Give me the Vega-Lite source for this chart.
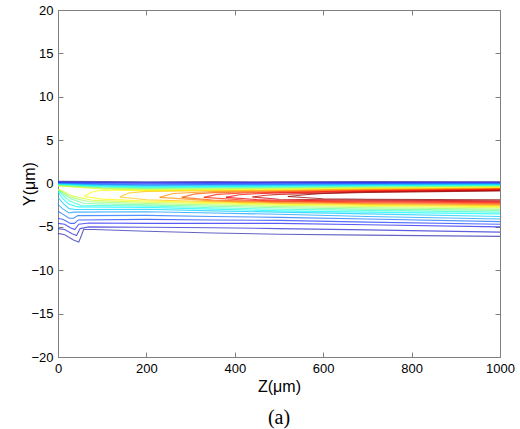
{
"$schema": "https://vega.github.io/schema/vega-lite/v6.json",
"width": 442, "height": 347,
"autosize": {"type": "none"},
"padding": {"left": 58, "top": 10, "right": 20, "bottom": 72},
"background": "white",
"config": {
  "view": {"stroke": "#808080", "strokeWidth": 1},
  "axis": {"grid": false, "domainColor": "#808080", "tickColor": "#808080", "labelColor": "black", "labelFont": "Liberation Sans", "labelFontSize": 13, "titleFont": "Liberation Sans", "titleFontSize": 16, "titleFontWeight": "normal", "titleColor": "black", "labelFlush": false, "labelOverlap": false, "tickSize": -5, "labelPadding": 10}
},
"title": {"text": "(a)", "orient": "bottom", "anchor": "middle", "font": "Liberation Serif", "fontSize": 20, "fontWeight": "normal", "color": "black", "offset": 14},
"data": {"values": [
{"lv":1,"p":"u","z":0,"y":0.25},{"lv":1,"p":"u","z":100,"y":0.22},{"lv":1,"p":"u","z":200,"y":0.2},{"lv":1,"p":"u","z":350,"y":0.22},{"lv":1,"p":"u","z":500,"y":0.2},{"lv":1,"p":"u","z":700,"y":0.22},{"lv":1,"p":"u","z":1000,"y":0.2},
{"lv":2,"p":"u","z":0,"y":0.155},{"lv":2,"p":"u","z":100,"y":0.125},{"lv":2,"p":"u","z":200,"y":0.115},{"lv":2,"p":"u","z":350,"y":0.12},{"lv":2,"p":"u","z":500,"y":0.125},{"lv":2,"p":"u","z":700,"y":0.135},{"lv":2,"p":"u","z":1000,"y":0.145},
{"lv":3,"p":"u","z":0,"y":0.11},{"lv":3,"p":"u","z":100,"y":0.05},{"lv":3,"p":"u","z":200,"y":0.03},{"lv":3,"p":"u","z":350,"y":0.04},{"lv":3,"p":"u","z":500,"y":0.05},{"lv":3,"p":"u","z":700,"y":0.07},{"lv":3,"p":"u","z":1000,"y":0.09},
{"lv":4,"p":"u","z":0,"y":0.065},{"lv":4,"p":"u","z":100,"y":-0.025},{"lv":4,"p":"u","z":200,"y":-0.055},{"lv":4,"p":"u","z":350,"y":-0.04},{"lv":4,"p":"u","z":500,"y":-0.025},{"lv":4,"p":"u","z":700,"y":0.005},{"lv":4,"p":"u","z":1000,"y":0.035},
{"lv":5,"p":"u","z":0,"y":0.02},{"lv":5,"p":"u","z":100,"y":-0.1},{"lv":5,"p":"u","z":200,"y":-0.14},{"lv":5,"p":"u","z":350,"y":-0.12},{"lv":5,"p":"u","z":500,"y":-0.1},{"lv":5,"p":"u","z":700,"y":-0.06},{"lv":5,"p":"u","z":1000,"y":-0.02},
{"lv":6,"p":"u","z":0,"y":-0.025},{"lv":6,"p":"u","z":100,"y":-0.175},{"lv":6,"p":"u","z":200,"y":-0.225},{"lv":6,"p":"u","z":350,"y":-0.2},{"lv":6,"p":"u","z":500,"y":-0.175},{"lv":6,"p":"u","z":700,"y":-0.125},{"lv":6,"p":"u","z":1000,"y":-0.075},
{"lv":7,"p":"u","z":0,"y":-0.07},{"lv":7,"p":"u","z":100,"y":-0.25},{"lv":7,"p":"u","z":200,"y":-0.31},{"lv":7,"p":"u","z":350,"y":-0.28},{"lv":7,"p":"u","z":500,"y":-0.25},{"lv":7,"p":"u","z":700,"y":-0.19},{"lv":7,"p":"u","z":1000,"y":-0.13},
{"lv":8,"p":"u","z":0,"y":-0.115},{"lv":8,"p":"u","z":100,"y":-0.325},{"lv":8,"p":"u","z":200,"y":-0.395},{"lv":8,"p":"u","z":350,"y":-0.36},{"lv":8,"p":"u","z":500,"y":-0.325},{"lv":8,"p":"u","z":700,"y":-0.255},{"lv":8,"p":"u","z":1000,"y":-0.185},
{"lv":9,"p":"u","z":0,"y":-0.16},{"lv":9,"p":"u","z":100,"y":-0.4},{"lv":9,"p":"u","z":200,"y":-0.48},{"lv":9,"p":"u","z":350,"y":-0.44},{"lv":9,"p":"u","z":500,"y":-0.4},{"lv":9,"p":"u","z":700,"y":-0.32},{"lv":9,"p":"u","z":1000,"y":-0.24},
{"lv":10,"p":"u","z":0,"y":-0.205},{"lv":10,"p":"u","z":100,"y":-0.475},{"lv":10,"p":"u","z":200,"y":-0.565},{"lv":10,"p":"u","z":350,"y":-0.52},{"lv":10,"p":"u","z":500,"y":-0.475},{"lv":10,"p":"u","z":700,"y":-0.385},{"lv":10,"p":"u","z":1000,"y":-0.295},
{"lv":11,"p":"u","z":0,"y":-0.25},{"lv":11,"p":"u","z":100,"y":-0.55},{"lv":11,"p":"u","z":200,"y":-0.65},{"lv":11,"p":"u","z":350,"y":-0.6},{"lv":11,"p":"u","z":500,"y":-0.55},{"lv":11,"p":"u","z":700,"y":-0.45},{"lv":11,"p":"u","z":1000,"y":-0.35},
{"lv":12,"p":"u","z":0,"y":-0.295},{"lv":12,"p":"u","z":100,"y":-0.625},{"lv":12,"p":"u","z":200,"y":-0.735},{"lv":12,"p":"u","z":350,"y":-0.68},{"lv":12,"p":"u","z":500,"y":-0.625},{"lv":12,"p":"u","z":700,"y":-0.515},{"lv":12,"p":"u","z":1000,"y":-0.405},
{"lv":13,"p":"u","z":60,"y":-1.5},{"lv":13,"p":"u","z":75,"y":-1.0},{"lv":13,"p":"u","z":100,"y":-0.75},{"lv":13,"p":"u","z":200,"y":-0.82},{"lv":13,"p":"u","z":350,"y":-0.76},{"lv":13,"p":"u","z":500,"y":-0.7},{"lv":13,"p":"u","z":700,"y":-0.58},{"lv":13,"p":"u","z":1000,"y":-0.46},
{"lv":14,"p":"u","z":140,"y":-1.55},{"lv":14,"p":"u","z":160,"y":-1.1},{"lv":14,"p":"u","z":200,"y":-0.905},{"lv":14,"p":"u","z":350,"y":-0.84},{"lv":14,"p":"u","z":500,"y":-0.775},{"lv":14,"p":"u","z":700,"y":-0.645},{"lv":14,"p":"u","z":1000,"y":-0.515},
{"lv":15,"p":"u","z":230,"y":-1.6},{"lv":15,"p":"u","z":260,"y":-1.15},{"lv":15,"p":"u","z":350,"y":-0.92},{"lv":15,"p":"u","z":500,"y":-0.85},{"lv":15,"p":"u","z":700,"y":-0.71},{"lv":15,"p":"u","z":1000,"y":-0.57},
{"lv":16,"p":"u","z":280,"y":-1.6},{"lv":16,"p":"u","z":310,"y":-1.2},{"lv":16,"p":"u","z":350,"y":-1.05},{"lv":16,"p":"u","z":500,"y":-0.925},{"lv":16,"p":"u","z":700,"y":-0.775},{"lv":16,"p":"u","z":1000,"y":-0.625},
{"lv":17,"p":"u","z":330,"y":-1.6},{"lv":17,"p":"u","z":360,"y":-1.25},{"lv":17,"p":"u","z":420,"y":-1.1},{"lv":17,"p":"u","z":500,"y":-1.0},{"lv":17,"p":"u","z":700,"y":-0.84},{"lv":17,"p":"u","z":1000,"y":-0.68},
{"lv":18,"p":"u","z":380,"y":-1.6},{"lv":18,"p":"u","z":410,"y":-1.3},{"lv":18,"p":"u","z":450,"y":-1.18},{"lv":18,"p":"u","z":500,"y":-1.075},{"lv":18,"p":"u","z":700,"y":-0.905},{"lv":18,"p":"u","z":1000,"y":-0.735},
{"lv":19,"p":"u","z":440,"y":-1.55},{"lv":19,"p":"u","z":470,"y":-1.35},{"lv":19,"p":"u","z":500,"y":-1.25},{"lv":19,"p":"u","z":700,"y":-0.97},{"lv":19,"p":"u","z":1000,"y":-0.79},
{"lv":20,"p":"u","z":520,"y":-1.5},{"lv":20,"p":"u","z":560,"y":-1.3},{"lv":20,"p":"u","z":600,"y":-1.15},{"lv":20,"p":"u","z":700,"y":-1.035},{"lv":20,"p":"u","z":1000,"y":-0.845},
{"lv":1,"p":"l","z":0,"y":-5.75},{"lv":1,"p":"l","z":15,"y":-5.9},{"lv":1,"p":"l","z":35,"y":-6.5},{"lv":1,"p":"l","z":47,"y":-6.75},{"lv":1,"p":"l","z":53,"y":-6.0},{"lv":1,"p":"l","z":58,"y":-5.3},{"lv":1,"p":"l","z":80,"y":-5.3},{"lv":1,"p":"l","z":200,"y":-5.5},{"lv":1,"p":"l","z":350,"y":-5.7},{"lv":1,"p":"l","z":500,"y":-5.85},{"lv":1,"p":"l","z":700,"y":-5.95},{"lv":1,"p":"l","z":1000,"y":-6.1},
{"lv":2,"p":"l","z":0,"y":-5.2},{"lv":2,"p":"l","z":15,"y":-5.3},{"lv":2,"p":"l","z":32,"y":-5.8},{"lv":2,"p":"l","z":42,"y":-6.0},{"lv":2,"p":"l","z":50,"y":-5.2},{"lv":2,"p":"l","z":70,"y":-5.0},{"lv":2,"p":"l","z":200,"y":-5.05},{"lv":2,"p":"l","z":350,"y":-5.1},{"lv":2,"p":"l","z":500,"y":-5.2},{"lv":2,"p":"l","z":700,"y":-5.35},{"lv":2,"p":"l","z":1000,"y":-5.6},
{"lv":3,"p":"l","z":0,"y":-4.6},{"lv":3,"p":"l","z":15,"y":-4.7},{"lv":3,"p":"l","z":28,"y":-5.1},{"lv":3,"p":"l","z":38,"y":-5.3},{"lv":3,"p":"l","z":47,"y":-4.7},{"lv":3,"p":"l","z":70,"y":-4.55},{"lv":3,"p":"l","z":200,"y":-4.6},{"lv":3,"p":"l","z":350,"y":-4.6},{"lv":3,"p":"l","z":500,"y":-4.6},{"lv":3,"p":"l","z":700,"y":-4.75},{"lv":3,"p":"l","z":1000,"y":-5.0},
{"lv":4,"p":"l","z":0,"y":-4.0},{"lv":4,"p":"l","z":12,"y":-4.15},{"lv":4,"p":"l","z":28,"y":-4.6},{"lv":4,"p":"l","z":37,"y":-4.6},{"lv":4,"p":"l","z":46,"y":-4.2},{"lv":4,"p":"l","z":200,"y":-4.13},{"lv":4,"p":"l","z":350,"y":-4.2},{"lv":4,"p":"l","z":500,"y":-4.25},{"lv":4,"p":"l","z":700,"y":-4.45},{"lv":4,"p":"l","z":1000,"y":-4.7},
{"lv":5,"p":"l","z":0,"y":-3.2},{"lv":5,"p":"l","z":10,"y":-3.5},{"lv":5,"p":"l","z":25,"y":-4.0},{"lv":5,"p":"l","z":35,"y":-4.0},{"lv":5,"p":"l","z":45,"y":-3.7},{"lv":5,"p":"l","z":200,"y":-3.67},{"lv":5,"p":"l","z":350,"y":-3.8},{"lv":5,"p":"l","z":500,"y":-3.9},{"lv":5,"p":"l","z":700,"y":-4.1},{"lv":5,"p":"l","z":1000,"y":-4.4},
{"lv":6,"p":"l","z":0,"y":-2.4},{"lv":6,"p":"l","z":10,"y":-2.9},{"lv":6,"p":"l","z":25,"y":-3.4},{"lv":6,"p":"l","z":35,"y":-3.3},{"lv":6,"p":"l","z":200,"y":-3.26},{"lv":6,"p":"l","z":350,"y":-3.4},{"lv":6,"p":"l","z":500,"y":-3.55},{"lv":6,"p":"l","z":700,"y":-3.8},{"lv":6,"p":"l","z":1000,"y":-4.1},
{"lv":7,"p":"l","z":0,"y":-1.6},{"lv":7,"p":"l","z":10,"y":-2.2},{"lv":7,"p":"l","z":25,"y":-2.9},{"lv":7,"p":"l","z":40,"y":-3.0},{"lv":7,"p":"l","z":200,"y":-2.97},{"lv":7,"p":"l","z":350,"y":-3.15},{"lv":7,"p":"l","z":500,"y":-3.3},{"lv":7,"p":"l","z":700,"y":-3.5},{"lv":7,"p":"l","z":1000,"y":-3.8},
{"lv":8,"p":"l","z":0,"y":-1.0},{"lv":8,"p":"l","z":10,"y":-1.7},{"lv":8,"p":"l","z":25,"y":-2.4},{"lv":8,"p":"l","z":45,"y":-2.7},{"lv":8,"p":"l","z":200,"y":-2.75},{"lv":8,"p":"l","z":350,"y":-2.95},{"lv":8,"p":"l","z":500,"y":-3.15},{"lv":8,"p":"l","z":700,"y":-3.3},{"lv":8,"p":"l","z":1000,"y":-3.5},
{"lv":9,"p":"l","z":0,"y":-0.8},{"lv":9,"p":"l","z":10,"y":-1.3},{"lv":9,"p":"l","z":25,"y":-2.0},{"lv":9,"p":"l","z":50,"y":-2.5},{"lv":9,"p":"l","z":200,"y":-2.6},{"lv":9,"p":"l","z":350,"y":-2.8},{"lv":9,"p":"l","z":500,"y":-2.97},{"lv":9,"p":"l","z":700,"y":-3.1},{"lv":9,"p":"l","z":1000,"y":-3.3},
{"lv":10,"p":"l","z":0,"y":-0.75},{"lv":10,"p":"l","z":10,"y":-1.1},{"lv":10,"p":"l","z":30,"y":-1.8},{"lv":10,"p":"l","z":60,"y":-2.3},{"lv":10,"p":"l","z":200,"y":-2.46},{"lv":10,"p":"l","z":350,"y":-2.63},{"lv":10,"p":"l","z":500,"y":-2.8},{"lv":10,"p":"l","z":700,"y":-2.95},{"lv":10,"p":"l","z":1000,"y":-3.1},
{"lv":11,"p":"l","z":0,"y":-0.7},{"lv":11,"p":"l","z":10,"y":-0.95},{"lv":11,"p":"l","z":30,"y":-1.6},{"lv":11,"p":"l","z":70,"y":-2.1},{"lv":11,"p":"l","z":200,"y":-2.3},{"lv":11,"p":"l","z":350,"y":-2.48},{"lv":11,"p":"l","z":500,"y":-2.65},{"lv":11,"p":"l","z":700,"y":-2.8},{"lv":11,"p":"l","z":1000,"y":-2.95},
{"lv":12,"p":"l","z":0,"y":-0.65},{"lv":12,"p":"l","z":10,"y":-0.85},{"lv":12,"p":"l","z":30,"y":-1.4},{"lv":12,"p":"l","z":80,"y":-1.95},{"lv":12,"p":"l","z":200,"y":-2.17},{"lv":12,"p":"l","z":350,"y":-2.33},{"lv":12,"p":"l","z":500,"y":-2.5},{"lv":12,"p":"l","z":700,"y":-2.65},{"lv":12,"p":"l","z":1000,"y":-2.8},
{"lv":13,"p":"l","z":60,"y":-1.5},{"lv":13,"p":"l","z":100,"y":-1.8},{"lv":13,"p":"l","z":200,"y":-2.02},{"lv":13,"p":"l","z":350,"y":-2.2},{"lv":13,"p":"l","z":500,"y":-2.4},{"lv":13,"p":"l","z":700,"y":-2.52},{"lv":13,"p":"l","z":1000,"y":-2.67},
{"lv":14,"p":"l","z":140,"y":-1.55},{"lv":14,"p":"l","z":200,"y":-1.88},{"lv":14,"p":"l","z":350,"y":-2.1},{"lv":14,"p":"l","z":500,"y":-2.3},{"lv":14,"p":"l","z":700,"y":-2.42},{"lv":14,"p":"l","z":1000,"y":-2.55},
{"lv":15,"p":"l","z":230,"y":-1.6},{"lv":15,"p":"l","z":350,"y":-2.0},{"lv":15,"p":"l","z":500,"y":-2.22},{"lv":15,"p":"l","z":700,"y":-2.32},{"lv":15,"p":"l","z":1000,"y":-2.43},
{"lv":16,"p":"l","z":280,"y":-1.6},{"lv":16,"p":"l","z":350,"y":-1.9},{"lv":16,"p":"l","z":500,"y":-2.12},{"lv":16,"p":"l","z":700,"y":-2.22},{"lv":16,"p":"l","z":1000,"y":-2.32},
{"lv":17,"p":"l","z":330,"y":-1.6},{"lv":17,"p":"l","z":420,"y":-1.9},{"lv":17,"p":"l","z":500,"y":-2.03},{"lv":17,"p":"l","z":700,"y":-2.12},{"lv":17,"p":"l","z":1000,"y":-2.2},
{"lv":18,"p":"l","z":380,"y":-1.6},{"lv":18,"p":"l","z":450,"y":-1.85},{"lv":18,"p":"l","z":500,"y":-1.93},{"lv":18,"p":"l","z":700,"y":-2.02},{"lv":18,"p":"l","z":1000,"y":-2.09},
{"lv":19,"p":"l","z":440,"y":-1.55},{"lv":19,"p":"l","z":500,"y":-1.82},{"lv":19,"p":"l","z":700,"y":-1.92},{"lv":19,"p":"l","z":1000,"y":-1.98},
{"lv":20,"p":"l","z":520,"y":-1.5},{"lv":20,"p":"l","z":600,"y":-1.75},{"lv":20,"p":"l","z":700,"y":-1.82},{"lv":20,"p":"l","z":1000,"y":-1.87}
]},
"layer": [
  {"mark": {"type": "line", "strokeWidth": 1.1, "strokeOpacity": 0.75, "clip": true},
   "encoding": {
     "x": {"field": "z", "type": "quantitative", "scale": {"domain": [0, 1000], "nice": false, "zero": false},
           "axis": {"values": [0, 200, 400, 600, 800, 1000], "format": "d", "title": "Z(μm)", "titleX": 221, "titleY": 34, "titleBaseline": "alphabetic", "titleAnchor": null}},
     "y": {"field": "y", "type": "quantitative", "scale": {"domain": [-20, 20], "nice": false, "zero": false},
           "axis": {"values": [-20, -15, -10, -5, 0, 5, 10, 15, 20], "format": "d", "title": "Y(μm)", "titleX": -24, "titleY": 173.5, "titleAngle": -90, "titleBaseline": "alphabetic", "titleAlign": "center"}},
     "color": {"field": "lv", "type": "quantitative", "legend": null,
               "scale": {"domain": [1, 3.375, 8.125, 12.875, 17.625, 20], "range": ["#3030b0", "#2020ff", "#00ffff", "#ffff00", "#ff0000", "#900000"], "interpolate": "rgb"}},
     "detail": [{"field": "lv"}, {"field": "p"}]
   }},
  {"mark": {"type": "line", "opacity": 0},
   "encoding": {
     "x": {"field": "z", "type": "quantitative", "scale": {"domain": [0, 1000], "nice": false, "zero": false},
           "axis": {"orient": "top", "values": [0, 200, 400, 600, 800, 1000], "labels": false, "title": null, "domain": false}},
     "y": {"field": "y", "type": "quantitative", "scale": {"domain": [-20, 20], "nice": false, "zero": false},
           "axis": {"orient": "right", "values": [-20, -15, -10, -5, 0, 5, 10, 15, 20], "labels": false, "title": null, "domain": false}},
     "detail": [{"field": "lv"}, {"field": "p"}]
   }}
],
"resolve": {"axis": {"x": "independent", "y": "independent"}}
}
